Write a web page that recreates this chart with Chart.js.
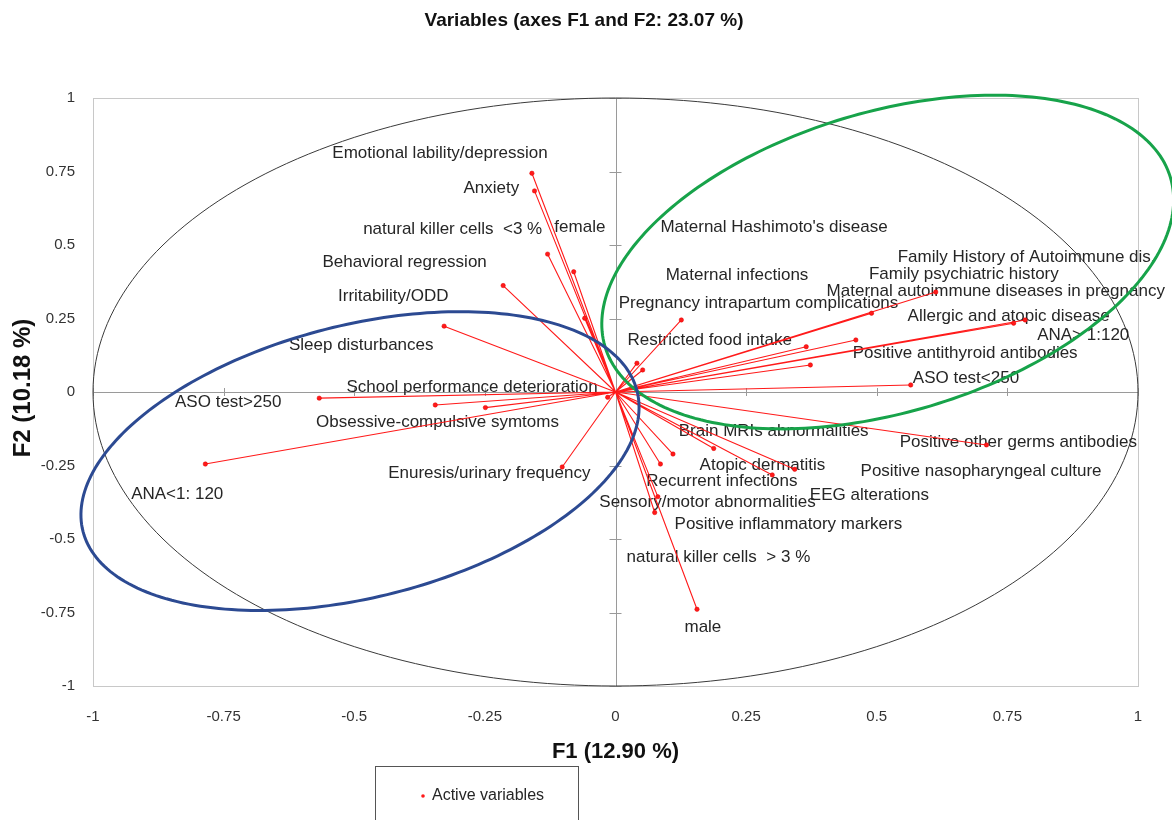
<!DOCTYPE html>
<html>
<head>
<meta charset="utf-8">
<script src="https://cdn.jsdelivr.net/npm/chart.js@4.4.1/dist/chart.umd.min.js"></script>
<style>
  html, body { margin: 0; padding: 0; background: #fff; }
  #wrap { position: relative; width: 1172px; height: 820px; }
</style>
</head>
<body>
<div id="wrap"><canvas id="pcaChart" width="1172" height="820"></canvas></div>
<script>
// PCA correlation circle, active variables on F1/F2
const variables = [
    'Emotional lability/depression', 'Anxiety', 'natural killer cells  <3 %', 'female',
    'Behavioral regression', 'Irritability/ODD', 'Sleep disturbances',
    'School performance deterioration', 'ASO test>250', 'Obsessive-compulsive symtoms',
    'Enuresis/urinary frequency', 'ANA<1: 120',
    "Maternal Hashimoto's disease", 'Family History of Autoimmune dis.', 'Maternal infections',
    'Family psychiatric history', 'Maternal autoimmune diseases in pregnancy',
    'Pregnancy intrapartum complications', 'Allergic and atopic disease', 'Restricted food intake',
    'ANA> 1:120', 'Positive antithyroid antibodies', 'ASO test<250',
    'Brain MRIs abnormalities', 'Positive other germs antibodies', 'Atopic dermatitis',
    'Positive nasopharyngeal culture', 'Recurrent infections', 'EEG alterations',
    'Sensory/motor abnormalities', 'Positive inflammatory markers', 'natural killer cells  > 3 %', 'male'
];
const f1 = [
    -0.160, -0.155, -0.130, -0.080, -0.215, -0.059, -0.328,
    -0.345, -0.567, -0.249, -0.102, -0.785,
    0.041, 0.613, 0.126, 0.490, 0.460, 0.365, 0.762, 0.052, 0.784, 0.373, 0.565,
    0.188, 0.710, 0.343, -0.015, 0.110, 0.300, 0.086, 0.075, 0.081, 0.156
];
const f2 = [
    0.744, 0.684, 0.469, 0.409, 0.362, 0.251, 0.224,
    -0.044, -0.021, -0.053, -0.255, -0.245,
    0.098, 0.340, 0.245, 0.268, 0.177, 0.154, 0.234, 0.075, 0.245, 0.092, 0.024,
    -0.192, -0.180, -0.263, -0.018, -0.211, -0.282, -0.245, -0.410, -0.356, -0.739
];
const tickValues = [-1, -0.75, -0.5, -0.25, 0, 0.25, 0.5, 0.75, 1];

// where each name is written (axis units, left edge / middle of text)
const labelAt = [
    [-0.542, 0.813], [-0.291, 0.694], [-0.483, 0.554], [-0.117, 0.561],
    [-0.561, 0.442], [-0.531, 0.327], [-0.625, 0.160],
    [-0.515, 0.017], [-0.843, -0.034], [-0.573, -0.102], [-0.435, -0.276], [-0.927, -0.347],
    [0.086, 0.561], [0.540, 0.459], [0.096, 0.398], [0.485, 0.401], [0.404, 0.344],
    [0.006, 0.303], [0.559, 0.259], [0.023, 0.177], [0.807, 0.194], [0.454, 0.133], [0.569, 0.048],
    [0.121, -0.133], [0.544, -0.170], [0.161, -0.248], [0.469, -0.269], [0.059, -0.303],
    [0.372, -0.350], [-0.031, -0.374], [0.113, -0.449], [0.021, -0.561], [0.132, -0.799]
];

// hand-drawn group outlines: centre plus two conjugate semi-diameters
const groupRings = [
    { color: '#17a34a', c: [0.521, 0.442], u: [0.541, 0.288], v: [-0.0825, 0.489] },
    { color: '#2c4a92', c: [-0.489, -0.235], u: [0.530, 0.240], v: [-0.0660, 0.4480] }
];

const TEXT = '#262626';
const LABEL_FONT = '17px "Liberation Sans", Arial, sans-serif';

const fmt = v => String(+Number(v).toFixed(2));

function ring(ctx, xs, ys, c, u, v) {
    ctx.beginPath();
    for (let i = 0; i <= 240; i++) {
        const t = i / 240 * Math.PI * 2;
        const px = xs.getPixelForValue(c[0] + u[0] * Math.cos(t) + v[0] * Math.sin(t));
        const py = ys.getPixelForValue(c[1] + u[1] * Math.cos(t) + v[1] * Math.sin(t));
        if (i === 0) ctx.moveTo(px, py); else ctx.lineTo(px, py);
    }
    ctx.closePath();
    ctx.stroke();
}

const biplot = {
    id: 'biplot',
    beforeDatasetsDraw(chart) {
        const { ctx, chartArea: a, scales: { x, y } } = chart;
        const x0 = x.getPixelForValue(0), y0 = y.getPixelForValue(0);
        ctx.save();

        // frame
        ctx.strokeStyle = '#c8c8c8';
        ctx.lineWidth = 1;
        ctx.strokeRect(a.left + 0.5, a.top + 0.5, a.width, a.height);

        // zero axes with tick marks
        ctx.strokeStyle = '#9a9a9a';
        ctx.beginPath();
        ctx.moveTo(a.left, Math.round(y0) + 0.5); ctx.lineTo(a.right, Math.round(y0) + 0.5);
        ctx.moveTo(Math.round(x0) + 0.5, a.top); ctx.lineTo(Math.round(x0) + 0.5, a.bottom);
        tickValues.forEach(t => {
            const px = Math.round(x.getPixelForValue(t)) + 0.5;
            const py = Math.round(y.getPixelForValue(t)) + 0.5;
            ctx.moveTo(px, y0 - 4); ctx.lineTo(px, y0 + 4);
            ctx.moveTo(x0 - 6, py); ctx.lineTo(x0 + 6, py);
        });
        ctx.stroke();

        // correlation circle
        ctx.strokeStyle = '#3a3a3a';
        ctx.lineWidth = 1;
        ring(ctx, x, y, [0, 0], [1, 0], [0, 1]);

        // variable names
        ctx.fillStyle = TEXT;
        ctx.font = LABEL_FONT;
        ctx.textBaseline = 'middle';
        ctx.textAlign = 'left';
        variables.forEach((name, i) => {
            ctx.fillText(name, x.getPixelForValue(labelAt[i][0]), y.getPixelForValue(labelAt[i][1]));
        });

        // vectors from the origin
        ctx.strokeStyle = '#ff1a1a';
        ctx.lineWidth = 1.1;
        ctx.beginPath();
        f1.forEach((v, i) => {
            ctx.moveTo(x0, y0);
            ctx.lineTo(x.getPixelForValue(v), y.getPixelForValue(f2[i]));
        });
        ctx.stroke();
        ctx.restore();
    },
    afterDatasetsDraw(chart) {
        const { ctx, scales: { x, y } } = chart;
        ctx.save();
        ctx.lineWidth = 3;
        groupRings.forEach(g => {
            ctx.strokeStyle = g.color;
            ring(ctx, x, y, g.c, g.u, g.v);
        });
        ctx.restore();
    },
    afterDraw(chart) {
        const { ctx, chartArea: a } = chart;
        ctx.save();
        ctx.fillStyle = '#111';
        ctx.textAlign = 'center';
        ctx.textBaseline = 'middle';

        ctx.font = 'bold 19px "Liberation Sans", Arial, sans-serif';
        ctx.fillText('Variables (axes F1 and F2: 23.07 %)', 584, 21);

        ctx.font = 'bold 22px "Liberation Sans", Arial, sans-serif';
        ctx.fillText('F1 (12.90 %)', (a.left + a.right) / 2, 752);

        ctx.font = 'bold 24px "Liberation Sans", Arial, sans-serif';
        ctx.save();
        ctx.translate(23, 388);
        ctx.rotate(-Math.PI / 2);
        ctx.fillText('F2 (10.18 %)', 0, 0);
        ctx.restore();

        // legend box
        ctx.strokeStyle = '#555';
        ctx.lineWidth = 1;
        ctx.strokeRect(375.5, 766.5, 203, 70);
        ctx.fillStyle = '#ff1a1a';
        ctx.beginPath();
        ctx.arc(423, 796, 1.8, 0, Math.PI * 2);
        ctx.fill();
        ctx.fillStyle = TEXT;
        ctx.textAlign = 'left';
        ctx.font = '16px "Liberation Sans", Arial, sans-serif';
        ctx.fillText('Active variables', 432, 796);
        ctx.restore();
    }
};

new Chart(document.getElementById('pcaChart'), {
    type: 'scatter',
    data: {
        datasets: [{
            label: 'Active variables',
            data: f1.map((v, i) => ({ x: v, y: f2[i] })),
            pointRadius: 2.2,
            pointBackgroundColor: '#ff1a1a',
            pointBorderColor: '#e00000',
            pointBorderWidth: 0.5
        }]
    },
    options: {
        responsive: false,
        animation: false,
        devicePixelRatio: 1,
        layout: { padding: { top: 98, right: 34, left: 0, bottom: 0 } },
        plugins: { legend: { display: false }, tooltip: { enabled: false }, title: { display: false } },
        scales: {
            x: {
                type: 'linear', min: -1, max: 1,
                grid: { display: false, drawTicks: false },
                border: { display: false },
                ticks: {
                    stepSize: 0.25, padding: 22, color: '#333',
                    font: { size: 15, family: '"Liberation Sans", Arial, sans-serif' },
                    callback: fmt
                },
                afterFit: s => { s.height = 134; }
            },
            y: {
                type: 'linear', min: -1, max: 1,
                grid: { display: false, drawTicks: false },
                border: { display: false },
                ticks: {
                    stepSize: 0.25, padding: 18, color: '#333',
                    font: { size: 15, family: '"Liberation Sans", Arial, sans-serif' },
                    callback: fmt
                },
                afterFit: s => { s.width = 93; }
            }
        }
    },
    plugins: [biplot]
});
</script>
</body>
</html>
